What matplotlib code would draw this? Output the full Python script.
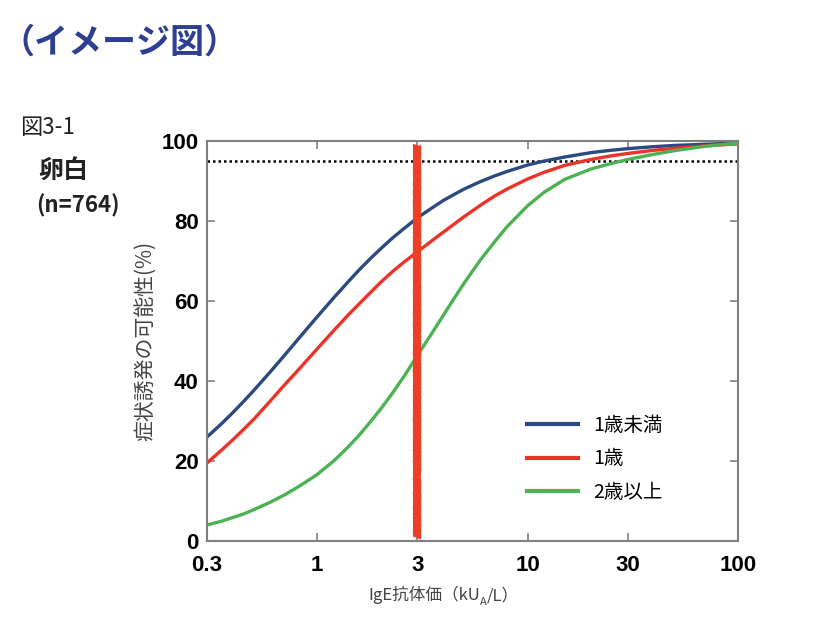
import matplotlib
matplotlib.use("Agg")
import matplotlib.pyplot as plt

plt.rcParams['font.family'] = ['Noto Sans CJK JP', 'DejaVu Sans']

# values (IgE in kUA/L, probability in %)
ige = [0.3, 0.35, 0.4, 0.45, 0.5, 0.6, 0.7, 0.8, 0.9, 1, 1.2, 1.4, 1.6, 1.8, 2, 2.3, 2.6, 3,
       3.5, 4, 4.5, 5, 6, 7, 8, 10, 12, 15, 20, 25, 30, 40, 50, 70, 100]
under1 = [26.0, 29.2, 32.2, 35.0, 37.6, 42.3, 46.4, 50.0, 53.2, 56.0, 60.8, 64.7, 68.0, 70.7,
          73.0, 75.9, 78.2, 80.8, 83.2, 85.2, 86.7, 88.0, 89.9, 91.3, 92.4, 94.0, 95.0, 96.0,
          97.1, 97.7, 98.1, 98.6, 98.9, 99.2, 99.5]
age1 = [19.5, 22.6, 25.4, 28.0, 30.4, 35.0, 39.0, 42.3, 45.3, 48.0, 52.6, 56.4, 59.5, 62.2,
        64.6, 67.5, 69.8, 72.3, 75.0, 77.3, 79.3, 81.1, 84.0, 86.3, 88.0, 90.5, 92.2, 93.9,
        95.4, 96.3, 96.9, 97.7, 98.2, 98.8, 99.3]
over2 = [4.0, 4.9, 5.9, 6.8, 7.8, 9.7, 11.5, 13.3, 15.0, 16.6, 20.0, 23.4, 26.7, 29.9,
         32.9, 37.2, 41.3, 46.4, 51.8, 56.6, 60.8, 64.5, 70.4, 74.9, 78.6, 83.8, 87.2, 90.4,
         93.0, 94.4, 95.4, 96.7, 97.6, 98.7, 99.5]
labels = ['1歳未満', '1歳', '2歳以上']
colors = ['#2b4a80', '#ec3328', '#4cb254']

xticks = [0.3, 1, 3, 10, 30, 100]
xticklabels = ['0.3', '1', '3', '10', '30', '100']
yticks = [0, 20, 40, 60, 80, 100]

cutoff = 95
marker_x = 3
marker_range = [0.8, 99]

fig = plt.figure(figsize=(8.2, 6.44), dpi=100)
ax = fig.add_axes([0.2524, 0.16, 0.6476, 0.621])

ax.axhline(cutoff, color='black', ls=(0, (1, 1.2)), lw=1.8, zorder=1)
for ys, lab, c in zip([under1, age1, over2], labels, colors):
    ax.plot(ige, ys, color=c, lw=2.4, label=lab, zorder=2)

# hand-drawn red marker at 3 kUA/L
vline, = ax.plot([marker_x, marker_x], marker_range, color='#ec3f26', lw=5.5,
                 solid_capstyle='butt', zorder=3)
vline.set_sketch_params(0.5, 3, 2)

ax.set_xscale('log')
ax.set_xlim(0.3, 100)
ax.set_ylim(0, 100)
ax.set_xticks(xticks, xticklabels)
ax.minorticks_off()
ax.set_yticks(yticks)

for t in ax.get_xticklabels() + ax.get_yticklabels():
    t.set_fontfamily('Liberation Sans')
    t.set_fontweight('bold')
    t.set_fontsize(16)
ax.tick_params(direction='in', length=6, width=1.2, color='#808080',
               top=True, right=True)
ax.tick_params(axis='x', pad=10)
ax.tick_params(axis='y', pad=6)
for s in ax.spines.values():
    s.set_color('#808080')
    s.set_linewidth(1.5)

ax.set_ylabel('症状誘発の可能性(%)', fontsize=15, color='#444444', labelpad=4)

leg = ax.legend(loc='upper left', bbox_to_anchor=(0.588, 0.334), frameon=False,
                fontsize=14, handlelength=2.6, handletextpad=0.8, labelspacing=0.63,
                borderaxespad=0)
for line in leg.get_lines():
    line.set_linewidth(3)

# x label with a subscript A
t1 = fig.text(368 / 820, 1 - 595 / 644, 'IgE抗体価（kU', fontsize=12, color='#444444',
              ha='left', va='center')
a1 = ax.annotate('A', xy=(1, 0), xycoords=t1, xytext=(0, -2), textcoords='offset points',
                 fontsize=8, color='#444444', ha='left', va='bottom')
ax.annotate('/L）', xy=(1, 0), xycoords=a1, xytext=(0, 2), textcoords='offset points',
            fontsize=12, color='#444444', ha='left', va='bottom')

fig.text(0 / 820, 1 - 42 / 644, '（イメージ図）', fontsize=24.5, weight='bold',
         color='#2d3f91', ha='left', va='center')
fig.text(20 / 820, 1 - 128 / 644, '図3-1', fontsize=16, color='#222222',
         ha='left', va='center')
fig.text(38 / 820, 1 - 172 / 644, '卵白', fontsize=18, weight='bold', color='#222222',
         ha='left', va='center')
fig.text(36 / 820, 1 - 206 / 644, '(n=764)', fontsize=16, weight='bold', color='#222222',
         ha='left', va='center')

fig.savefig('out.png', dpi=100)
